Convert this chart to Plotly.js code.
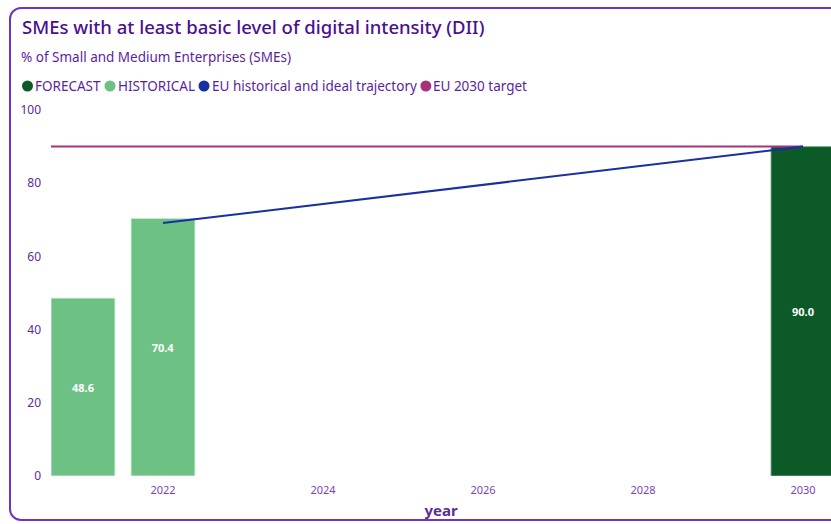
<!DOCTYPE html>
<html>
<head>
<meta charset="utf-8">
<script src="https://cdn.plot.ly/plotly-3.0.1.min.js"></script>
<style>
  html, body { margin: 0; padding: 0; width: 831px; height: 524px; overflow: hidden; background: #fff; }
  #frame { position: absolute; left: 9px; top: 7px; width: 900px; height: 514px; border: 2px solid #6e35c4; border-radius: 12px; box-sizing: border-box; }
  #chart { position: absolute; left: 0; top: 0; width: 831px; height: 524px; }
</style>
</head>
<body>
<div id="frame"></div>
<div id="chart"></div>
<script>
const historicalYears = [2021, 2022];
const historicalValues = [48.6, 70.4];
const forecastYears = [2030];
const forecastValues = [90.0];
const euTrajectoryYears = [2022, 2030];
const euTrajectoryValues = [69.1, 90.0];
const euTargetYears = [2020.6, 2030];
const euTargetValues = [90, 90];
const xTickValues = [2022, 2024, 2026, 2028, 2030];
const legendNames = ["FORECAST", "HISTORICAL", "EU historical and ideal trajectory", "EU 2030 target"];
const legendColors = ["#0b5a27", "#6dc184", "#1a2fa0", "#a8327a"];

const FONT = "Noto Sans, Open Sans, sans-serif";
const W = 831, H = 524, ML = 51, MT = 110, PW = 780, PH = 366;
const LEGEND_FONT_SIZE = 13.5;

const traces = [
  {
    type: "bar", name: legendNames[1], x: historicalYears, y: historicalValues,
    width: 0.8,
    marker: { color: legendColors[1], line: { color: "rgba(220,240,225,0.9)", width: 1 } },
    text: historicalValues.map(v => v.toFixed(1)), textposition: "inside", insidetextanchor: "middle",
    textfont: { color: "#ffffff", size: 11, family: FONT, weight: "bold" }, showlegend: false
  },
  {
    type: "bar", name: legendNames[0], x: forecastYears, y: forecastValues,
    width: 0.8,
    marker: { color: legendColors[0], line: { color: "rgba(120,180,140,0.9)", width: 1 } },
    text: forecastValues.map(v => v.toFixed(1)), textposition: "inside", insidetextanchor: "middle",
    textfont: { color: "#ffffff", size: 11, family: FONT, weight: "bold" }, showlegend: false
  },
  {
    type: "scatter", mode: "lines", name: legendNames[3], x: euTargetYears, y: euTargetValues,
    line: { color: legendColors[3], width: 2 }, showlegend: false
  },
  {
    type: "scatter", mode: "lines", name: legendNames[2], x: euTrajectoryYears, y: euTrajectoryValues,
    line: { color: legendColors[2], width: 2 }, showlegend: false
  }
];

const px = x => (x - ML) / PW;
const py = y => 1 - (y - MT) / PH;

// measure legend text widths to lay items out in a row
const ctx = document.createElement("canvas").getContext("2d");
ctx.font = LEGEND_FONT_SIZE + "px 'Noto Sans'";
const legendY = 86;
const legendShapes = [], legendAnnotations = [];
let cursor = 22;
legendNames.forEach((n, i) => {
  legendShapes.push({
    type: "circle", xref: "paper", yref: "paper",
    xsizemode: "pixel", ysizemode: "pixel",
    xanchor: px(cursor + 5.5), yanchor: py(legendY),
    x0: -5.5, x1: 5.5, y0: -5.5, y1: 5.5,
    fillcolor: legendColors[i], line: { width: 0 }
  });
  const tx = cursor + 11;
  legendAnnotations.push({
    text: n, xref: "paper", yref: "paper",
    x: px(tx), y: py(legendY), xanchor: "left", yanchor: "middle",
    showarrow: false, font: { size: LEGEND_FONT_SIZE, color: "#5b1f9e", family: FONT }
  });
  cursor = tx + ctx.measureText(n).width + 6;
});

const layout = {
  width: W, height: H,
  paper_bgcolor: "rgba(0,0,0,0)", plot_bgcolor: "rgba(0,0,0,0)",
  margin: { l: ML, r: 0, t: MT, b: 48 },
  font: { family: FONT, color: "#5a2d91" },
  title: {
    text: "SMEs with at least basic level of digital intensity (DII)",
    xref: "container", yref: "container", x: 22 / W, xanchor: "left",
    y: 1 - 28 / H, yanchor: "middle",
    font: { family: FONT, size: 18.5, color: "#4b0f8f", weight: 500 }
  },
  xaxis: {
    range: [2020.6, 2030.35], tickvals: xTickValues, ticktext: xTickValues.map(String),
    showgrid: false, zeroline: false, showline: false, ticks: "",
    tickfont: { size: 11, color: "#7e3fb8", family: FONT }, ticklabelstandoff: 6,
    title: { text: "year", font: { size: 15, color: "#5a2d91", family: FONT, weight: "bold" }, standoff: 9 }
  },
  yaxis: {
    range: [0, 100], tickvals: [0, 20, 40, 60, 80, 100],
    showgrid: false, zeroline: false, showline: false, ticks: "",
    tickfont: { size: 12, color: "#5a2d91", family: FONT }, ticklabelstandoff: 9
  },
  bargap: 0.2,
  showlegend: false,
  shapes: legendShapes,
  annotations: [
    { text: "% of Small and Medium Enterprises (SMEs)", xref: "paper", yref: "paper",
      x: px(19), y: py(57), xanchor: "left", yanchor: "middle",
      showarrow: false, font: { size: 13.5, color: "#5b1f9e", family: FONT } }
  ].concat(legendAnnotations)
};

Plotly.newPlot("chart", traces, layout, { displayModeBar: false, staticPlot: true });
</script>
</body>
</html>
